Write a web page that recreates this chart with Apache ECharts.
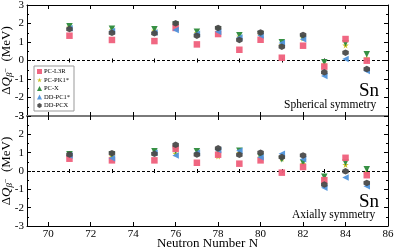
<!DOCTYPE html>
<html><head><meta charset="utf-8">
<script src="https://cdn.jsdelivr.net/npm/echarts@6/dist/echarts.min.js"></script>
<style>html,body{margin:0;padding:0;background:#fff}#c{width:399px;height:252px}</style>
</head><body><div id="c"></div>
<script>
const N = [71,73,75,76,77,78,79,80,81,82,83,84,85];
const seriesNames = ['PC-L3R','PC-PK1*','PC-X','DD-PC1*','DD-PCX'];
const xTicks = [70,72,74,76,78,80,82,84,86];
const yTicks = [-3,-2,-1,0,1,2,3];
// Spherical symmetry (top)
const sphL3R  = [1.34,1.11,1.05,1.76,0.87,1.43,0.58,1.12,0.15,0.80,-0.33,1.16,-0.01];
const sphPK1  = [1.80,1.65,1.62,1.95,1.50,1.70,1.30,1.38,0.85,1.20,-0.20,0.82,0.12];
const sphPCX  = [1.85,1.72,1.69,1.95,1.56,1.68,1.36,1.42,0.98,1.22,-0.10,0.93,0.34];
const sphDPC1 = [1.75,1.60,1.52,1.65,1.45,1.55,1.25,1.35,0.95,1.15,-0.84,0.08,-0.57];
const sphDPCX = [1.70,1.50,1.47,2.01,1.34,1.76,1.11,1.52,0.75,1.38,-0.64,0.42,-0.46];
// Axially symmetry (bottom)
const axL3R  = [0.67,0.58,0.58,1.21,0.45,0.89,0.40,0.58,-0.09,0.22,-0.50,0.72,-0.23];
const axPK1  = [0.88,0.80,1.00,0.95,1.00,0.80,1.00,0.75,0.68,0.40,-0.40,0.34,-0.05];
const axPCX  = [0.92,0.90,1.08,1.10,1.08,1.07,1.10,0.78,0.64,0.47,-0.32,0.47,0.09];
const axDPC1 = [0.85,0.70,1.00,0.85,1.00,1.15,1.10,0.75,0.94,0.64,-0.92,-0.36,-0.83];
const axDPCX = [0.90,0.97,0.94,1.43,0.90,1.24,0.88,1.00,0.76,0.85,-0.74,-0.02,-0.65];

const SERIF = '"Liberation Serif","DejaVu Serif",serif';
const styles = [
  {color:'#ef5f7b', symbol:'rect', size:6.5, rot:0},
  {color:'#c9c01c', symbol:'path://M50,0 L61,35 L98,35 L68,57 L79,91 L50,70 L21,91 L32,57 L2,35 L39,35Z', size:6.5, rot:0},
  {color:'#2c8a3a', symbol:'triangle', size:6.5, rot:180},
  {color:'#4f93dc', symbol:'triangle', size:6.5, rot:90},
  {color:'#4a4a4a', symbol:'path://M5,0 L10,2.9 L10,8.7 L5,11.6 L0,8.7 L0,2.9Z', size:6.5, rot:0}
];
const topData = [sphL3R, sphPK1, sphPCX, sphDPC1, sphDPCX];
const botData = [axL3R, axPK1, axPCX, axDPC1, axDPCX];

function xAxes(gi, showLabel){
  const base = {
    type:'value', gridIndex:gi, min:69, max:86, interval:1,
    minorTick:{show:false},
    axisTick:{inside:true, length:4, lineStyle:{color:'#000'}, customValues: xTicks},
    splitLine:{show:false}
  };
  return [
    Object.assign({}, base, {position:'bottom',
      axisLine:{show:true, onZero:false, lineStyle:{color: gi===0 ? '#7a7a7a':'#000', width: gi===0?2:1}},
      axisLabel:{show:showLabel, fontFamily:SERIF, fontSize:11, color:'#000', margin:3, customValues: xTicks},
      name: showLabel ? 'Neutron Number N' : '', nameLocation:'middle', nameGap:11, nameMoveOverlap:false,
      nameTextStyle:{fontFamily:SERIF, fontSize:13, color:'#000'}
    }),
    Object.assign({}, base, {position:'top',
      axisLine:{show:true, onZero:false, lineStyle:{color: gi===1 ? '#7a7a7a':'#000', width: gi===1?2:1}},
      axisLabel:{show:false}
    })
  ];
}
function xMinor(gi, pos){
  return {type:'value', gridIndex:gi, min:69, max:86, interval:1, position:pos,
    axisLine:{show:false}, axisLabel:{show:false}, splitLine:{show:false},
    axisTick:{inside:true, length:2, lineStyle:{color:'#000'},
      customValues:[69,71,73,75,77,79,81,83,85]}};
}
function yAxes(gi){
  const base = {
    type:'value', gridIndex:gi, min:-3, max:3, interval:1,
    minorTick:{show:true, splitNumber:2, length:2, lineStyle:{color:'#000'}},
    axisTick:{inside:true, length:4, lineStyle:{color:'#000'}},
    axisLine:{show:true, onZero:false, lineStyle:{color:'#000'}},
    splitLine:{show:false}
  };
  return [
    Object.assign({}, base, {position:'left',
      axisLabel:{fontFamily:SERIF, fontSize:11, color:'#000', margin:3,
        customValues: yTicks, showMinLabel:true, showMaxLabel:true, hideOverlap:false},
      name:'{a|Δ}{q|Q}{s|β}{t|−}{a|  (MeV)}', nameLocation:'middle', nameGap:13, nameMoveOverlap:false,
      nameTextStyle:{fontFamily:SERIF, fontSize:13, color:'#000',
        rich:{a:{fontFamily:SERIF, fontSize:13, color:'#000'},
              q:{fontFamily:SERIF, fontSize:13, fontStyle:'italic', color:'#000'},
              s:{fontFamily:SERIF, fontSize:9, fontStyle:'italic', color:'#000', padding:[6,0,0,0]},
              t:{fontFamily:SERIF, fontSize:8, color:'#000', padding:[0,0,2,0]}}}
    }),
    Object.assign({}, base, {position:'right', axisLabel:{show:false}})
  ];
}

const series = [];
[topData, botData].forEach((dataSet, gi) => {
  dataSet.forEach((vals, si) => {
    const st = styles[si];
    const s = {
      name: seriesNames[si], type:'scatter',
      xAxisIndex: gi*2, yAxisIndex: gi*2,
      symbol: st.symbol, symbolSize: st.size, symbolRotate: st.rot,
      itemStyle:{color: st.color, opacity:0.95},
      data: N.map((n,i)=>[n, vals[i]]),
      z: 3 + si
    };
    if (si === 0) {
      s.markLine = {silent:true, symbol:'none', label:{show:false},
        lineStyle:{color:'#000', type:[3,2], width:1}, data:[{yAxis:0}]};
    }
    series.push(s);
  });
});
series.forEach(s=>{ if(s.name==='PC-L3R') s.z = 6; if(s.name==='DD-PCX') s.z=7; });

const chart = echarts.init(document.getElementById('c'), null, {renderer:'canvas'});
chart.setOption({
  animation:false,
  backgroundColor:'#fff',
  grid:[
    {left:27, top:5, width:361, height:111, outerBoundsMode:'none'},
    {left:27, top:116, width:361, height:110, outerBoundsMode:'none'}
  ],
  xAxis: [...xAxes(0,false), ...xAxes(1,true),
          xMinor(0,'bottom'), xMinor(0,'top'), xMinor(1,'bottom'), xMinor(1,'top')],
  yAxis: [...yAxes(0), ...yAxes(1)],
  legend:{
    data: seriesNames, orient:'vertical', left:34, top:66,
    itemWidth:5, itemHeight:5, itemGap:1.5, padding:[2,4,2,3],
    borderColor:'#999', borderWidth:1, backgroundColor:'#fff',
    textStyle:{fontFamily:SERIF, fontSize:6.5, color:'#000', padding:[0,0,0,-3]}
  },
  graphic:[
    {type:'text', left:359, top:82, style:{text:'Sn', font:'19px '+SERIF, fill:'#000'}},
    {type:'text', left:284, top:99, style:{text:'Spherical symmetry', font:'11.5px '+SERIF, fill:'#000'}},
    {type:'text', left:359, top:193, style:{text:'Sn', font:'19px '+SERIF, fill:'#000'}},
    {type:'text', left:292, top:209, style:{text:'Axially symmetry', font:'11.5px '+SERIF, fill:'#000'}}
  ],
  series
});
</script></body></html>
